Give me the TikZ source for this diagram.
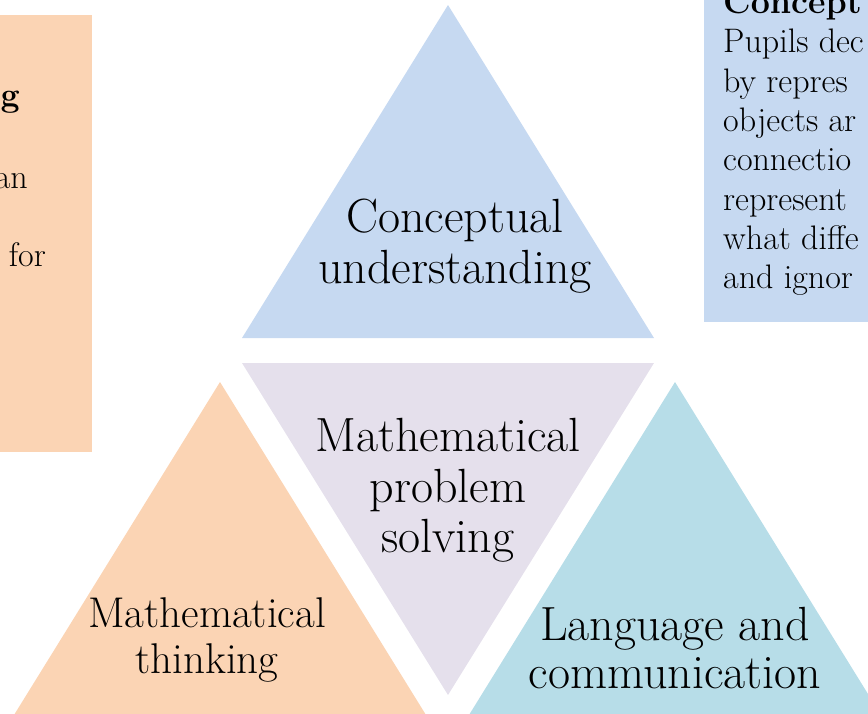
\documentclass[tikz,border=0pt]{standalone}
\usepackage{tikz}
\definecolor{cublue}{RGB}{198,217,241}
\definecolor{pslilac}{RGB}{229,224,236}
\definecolor{mtpeach}{RGB}{251,212,180}
\definecolor{lcaqua}{RGB}{183,221,232}
\begin{document}
\begin{tikzpicture}[x=1pt,y=-1pt,
  lbl/.style={anchor=base,inner sep=0pt,font=\fontsize{48}{51}\selectfont},
  lblsmall/.style={anchor=base,inner sep=0pt,font=\fontsize{43}{46}\selectfont},
  boxtxt/.style={anchor=base west,inner sep=0pt,font=\fontsize{34}{39}\selectfont},
  boxfrag/.style={anchor=base east,inner sep=0pt,font=\fontsize{34}{39}\selectfont}]
\useasboundingbox (0,0) rectangle (868,713);
% side boxes
\fill [mtpeach] (-20,15) rectangle (92,452);
\fill [cublue] (704,-20) rectangle (890,322);
% triangles
\fill [cublue] (448,5) -- (654,338) -- (242,338) -- cycle;
\fill [pslilac] (242,363) -- (654,363) -- (448,695) -- cycle;
\fill [mtpeach] (220,382) -- (426,715) -- (14,715) -- cycle;
\fill [lcaqua] (675,382) -- (881,715) -- (469,715) -- cycle;
% triangle labels
\node [lbl] (cu1) at (455,232) {Conceptual};
\node [lbl] (cu2) at (455,283) {understanding};
\node [lbl] (ps1) at (448,451) {Mathematical};
\node [lbl] (ps2) at (448,502) {problem};
\node [lbl] (ps3) at (448,552) {solving};
\node [lblsmall] (mt1) at (207,627) {Mathematical};
\node [lblsmall] (mt2) at (207,673) {thinking};
\node [lbl] (lc1) at (675,640) {Language and};
\node [lbl] (lc2) at (675,688) {communication};
% left box text
\node [boxfrag,font=\fontsize{34}{39}\selectfont\bfseries] (lh) at (20,106) {g};
\node [boxfrag] (l1) at (28,188) {an};
\node [boxfrag] (l2) at (46,266) {for};
% right box text
\node [boxtxt,font=\fontsize{34}{39}\selectfont\bfseries] (rh) at (723,13) {Concept};
\node [boxtxt] (r1) at (723,52) {Pupils dec};
\node [boxtxt] (r2) at (723,92) {by repres};
\node [boxtxt] (r3) at (723,131) {objects ar};
\node [boxtxt] (r4) at (723,170) {connectio};
\node [boxtxt] (r5) at (723,210) {represent};
\node [boxtxt] (r6) at (723,249) {what diffe};
\node [boxtxt] (r7) at (723,288) {and ignor};
\end{tikzpicture}
\end{document}
